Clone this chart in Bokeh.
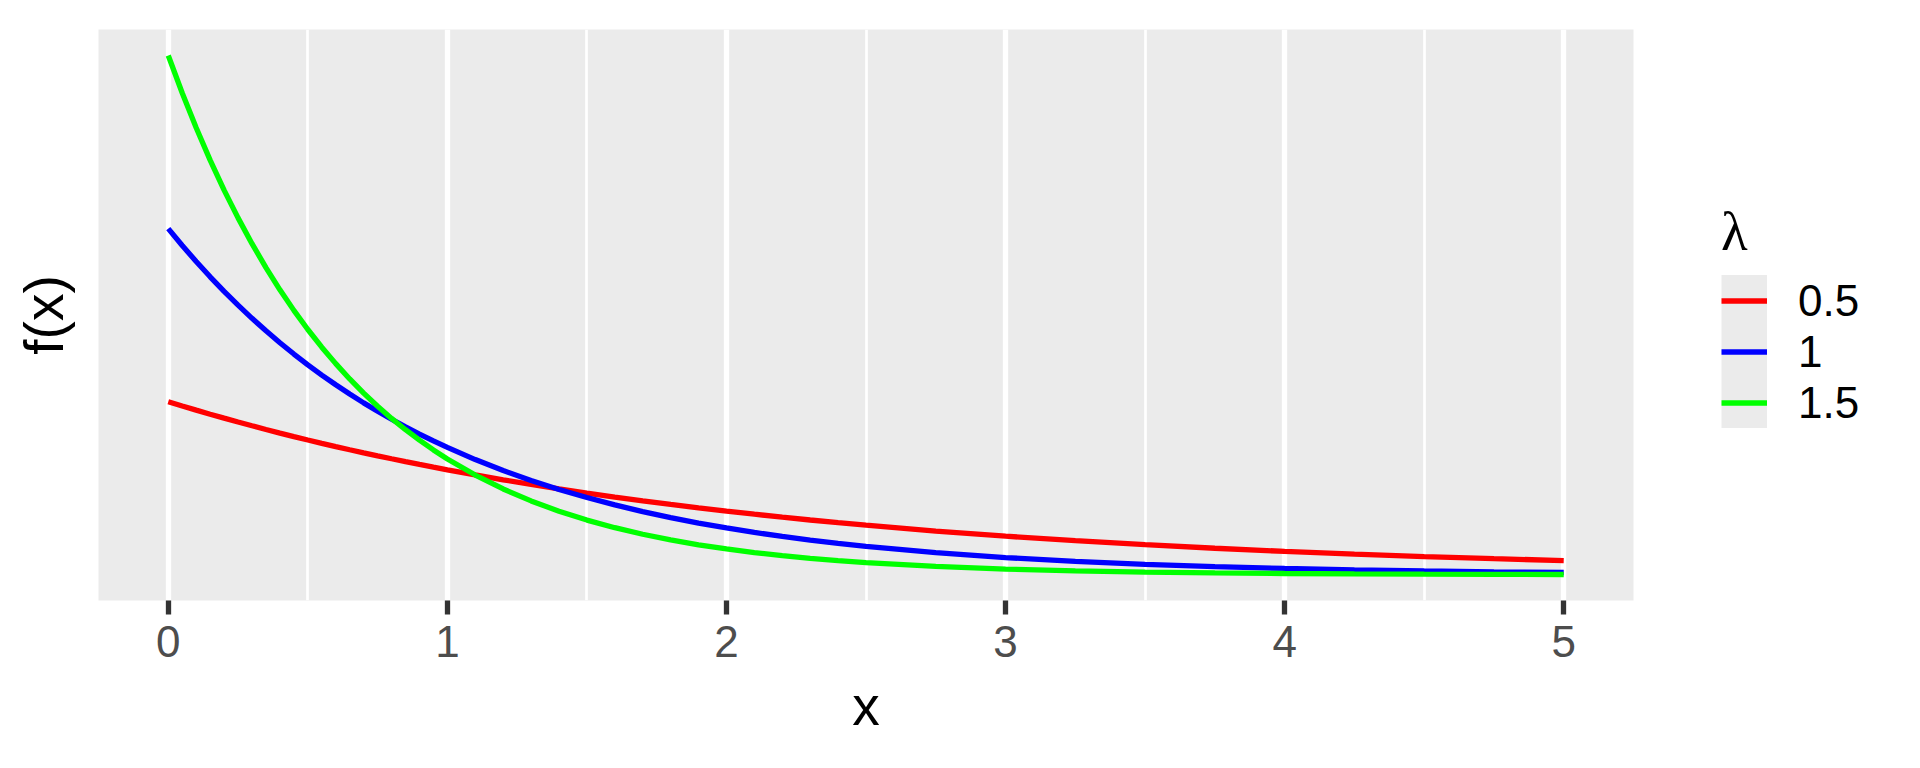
from bokeh.plotting import figure
from bokeh.models import Range1d, FixedTicker, Legend, LegendItem
from bokeh.embed import file_html
from bokeh.resources import INLINE

# ---- data ----
x_vals = [0, 0.05, 0.1, 0.15, 0.2, 0.25, 0.3, 0.35, 0.4, 0.45, 0.5,
          0.55, 0.6, 0.65, 0.7, 0.75, 0.8, 0.85, 0.9, 0.95, 1.0,
          1.1, 1.2, 1.3, 1.4, 1.5, 1.6, 1.7, 1.8, 1.9, 2.0,
          2.1, 2.2, 2.3, 2.4, 2.5, 2.75, 3.0, 3.25, 3.5, 3.75,
          4.0, 4.25, 4.5, 4.75, 5.0]
y_lam_05 = [0.5, 0.48765, 0.47561, 0.46387, 0.45242, 0.44125, 0.43035, 0.41973, 0.40937, 0.39926, 0.38940,
            0.37979, 0.37041, 0.36126, 0.35234, 0.34364, 0.33516, 0.32689, 0.31881, 0.31094, 0.30327,
            0.28847, 0.27441, 0.26102, 0.24829, 0.23618, 0.22466, 0.21371, 0.20328, 0.19337, 0.18394,
            0.17497, 0.16644, 0.15832, 0.15060, 0.14325, 0.12642, 0.11157, 0.09846, 0.08689, 0.07668,
            0.06767, 0.05972, 0.05270, 0.04651, 0.04104]
y_lam_10 = [1.0, 0.95123, 0.90484, 0.86071, 0.81873, 0.77880, 0.74082, 0.70469, 0.67032, 0.63763, 0.60653,
            0.57695, 0.54881, 0.52205, 0.49659, 0.47237, 0.44933, 0.42741, 0.40657, 0.38674, 0.36788,
            0.33287, 0.30119, 0.27253, 0.24660, 0.22313, 0.20190, 0.18268, 0.16530, 0.14957, 0.13534,
            0.12246, 0.11080, 0.10026, 0.09072, 0.08208, 0.06393, 0.04979, 0.03877, 0.03020, 0.02352,
            0.01832, 0.01426, 0.01111, 0.00865, 0.00674]
y_lam_15 = [1.5, 1.39161, 1.29106, 1.19777, 1.11123, 1.03093, 0.95644, 0.88733, 0.82322, 0.76373, 0.70855,
            0.65735, 0.60986, 0.56579, 0.52491, 0.48698, 0.45179, 0.41915, 0.38886, 0.36076, 0.33470,
            0.28808, 0.24795, 0.21341, 0.18368, 0.15810, 0.13608, 0.11712, 0.10081, 0.08677, 0.07468,
            0.06428, 0.05532, 0.04762, 0.04099, 0.03528, 0.02424, 0.01666, 0.01145, 0.00787, 0.00541,
            0.00372, 0.00256, 0.00176, 0.00121, 0.00083]
lam_labels = ["0.5", "1", "1.5"]
series = [y_lam_05, y_lam_10, y_lam_15]
colors = ["#FF0000", "#0000FF", "#00FF00"]
x_ticks = [0, 1, 2, 3, 4, 5]
x_tick_labels = ["0", "1", "2", "3", "4", "5"]
x_minor = [0.5, 1.5, 2.5, 3.5, 4.5]

FONT = "Liberation Sans"
PANEL = "#EBEBEB"
LW = 5.3

p = figure(frame_width=1535, frame_height=571,
           x_range=Range1d(-0.25, 5.25), y_range=Range1d(-0.0742, 1.575),
           output_backend="svg", toolbar_location=None,
           min_border_left=98, min_border_top=29, min_border_right=280, min_border_bottom=162,
           x_axis_label="x", y_axis_label="f(x)")
p.background_fill_color = PANEL
p.border_fill_color = "white"
p.outline_line_color = None

# grid
p.xgrid.ticker = FixedTicker(ticks=x_ticks, minor_ticks=x_minor)
p.xgrid.grid_line_color = "white"
p.xgrid.grid_line_width = LW
p.xgrid.minor_grid_line_color = "white"
p.xgrid.minor_grid_line_width = LW / 2
p.ygrid.visible = False

# x axis
xa = p.xaxis[0]
xa.ticker = FixedTicker(ticks=x_ticks)
xa.major_label_overrides = {t: l for t, l in zip(x_ticks, x_tick_labels)}
xa.axis_line_color = None
xa.major_tick_line_color = "#333333"
xa.major_tick_line_width = LW
xa.major_tick_out = 14
xa.major_tick_in = 0
xa.minor_tick_line_color = None
xa.major_label_text_font = FONT
xa.major_label_text_font_size = "44px"
xa.major_label_text_color = "#4D4D4D"
xa.major_label_standoff = 11
xa.axis_label_text_font = FONT
xa.axis_label_text_font_size = "55px"
xa.axis_label_text_font_style = "normal"
xa.axis_label_text_color = "black"
xa.axis_label_standoff = 15

# y axis (no ticks / labels)
ya = p.yaxis[0]
ya.ticker = FixedTicker(ticks=[])
ya.axis_line_color = None
ya.major_tick_line_color = None
ya.minor_tick_line_color = None
ya.major_tick_out = 0
ya.minor_tick_out = 0
ya.major_label_standoff = 0
ya.major_label_text_font_size = "0px"
ya.axis_label_text_font = FONT
ya.axis_label_text_font_size = "55px"
ya.axis_label_text_font_style = "normal"
ya.axis_label_text_color = "black"
ya.axis_label_standoff = 24

# key background (legend only): a one-point line draws nothing in the panel
bg = p.line(x=x_vals[:1], y=y_lam_05[:1], line_color=PANEL, line_width=52, line_cap="butt")

renderers = []
for ys, c in zip(series, colors):
    r = p.line(x=x_vals, y=ys, line_color=c, line_width=LW)
    renderers.append(r)

legend = Legend(
    items=[LegendItem(label=l, renderers=[bg, r]) for l, r in zip(lam_labels, renderers)],
    location=(88, 172), orientation="vertical",
    margin=44, padding=0, spacing=0,
    glyph_width=46, glyph_height=51, label_standoff=31,
    title="λ", title_text_font="Liberation Serif", title_text_font_size="55px",
    title_text_font_style="normal", title_text_color="black", title_standoff=12,
    label_text_font=FONT, label_text_font_size="44px", label_text_color="black",
    background_fill_alpha=0, border_line_alpha=0,
)
p.add_layout(legend, "right")

open("out.html", "w").write(file_html(p, INLINE))
